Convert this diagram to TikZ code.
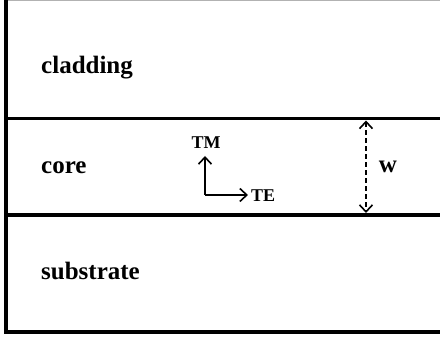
\documentclass[tikz,border=0pt]{standalone}
\usepackage{fontspec}
\setmainfont{Liberation Serif}
\usetikzlibrary{arrows.meta}
\begin{document}
\begin{tikzpicture}[x=1pt,y=-1pt,
  layer/.style={line width=3.2pt},
  lbl/.style={anchor=west,inner sep=0pt,font=\fontsize{25}{25}\selectfont\bfseries},
  small/.style={inner sep=0pt,font=\fontsize{18}{18}\selectfont\bfseries},
  barb/.tip={Straight Barb[length=7pt,width=13pt,line width=1.6pt]},
  arr/.style={line width=1.8pt,-barb}]
\useasboundingbox (0,0) rectangle (440,339);
\coordinate (tl) at (6,1);
\coordinate (tr) at (440,1);
\coordinate (bl) at (6,332);
\coordinate (br) at (440,332);
\coordinate (c1l) at (6,118.5);
\coordinate (c1r) at (440,118.5);
\coordinate (c2l) at (6,215);
\coordinate (c2r) at (440,215);
\draw[gray!60,line width=1pt] (tl) -- (tr);
\draw[layer] (6,0.5) -- (bl) -- (br);
\draw[layer] (c1l) -- (c1r);
\draw[layer] (c2l) -- (c2r);
\node[lbl] (clad) at (41,68) {cladding};
\node[lbl] (core) at (41,168) {core};
\node[lbl] (sub) at (41,271) {substrate};
\coordinate (o) at (205,195);
\coordinate (up) at (205,156);
\coordinate (rt) at (248,195);
\draw[arr] (o) -- (up);
\draw[arr] (o) -- (rt);
\node[small] (tm) at (206,143) {TM};
\node[small,anchor=west] (te) at (251,196) {TE};
\coordinate (wt) at (366,120.5);
\coordinate (wb) at (366,213);
\draw[line width=1.6pt,dash pattern=on 5pt off 3pt,barb-barb] (wt) -- (wb);
\node[lbl,anchor=center] (w) at (388,167) {w};
\end{tikzpicture}
\end{document}
